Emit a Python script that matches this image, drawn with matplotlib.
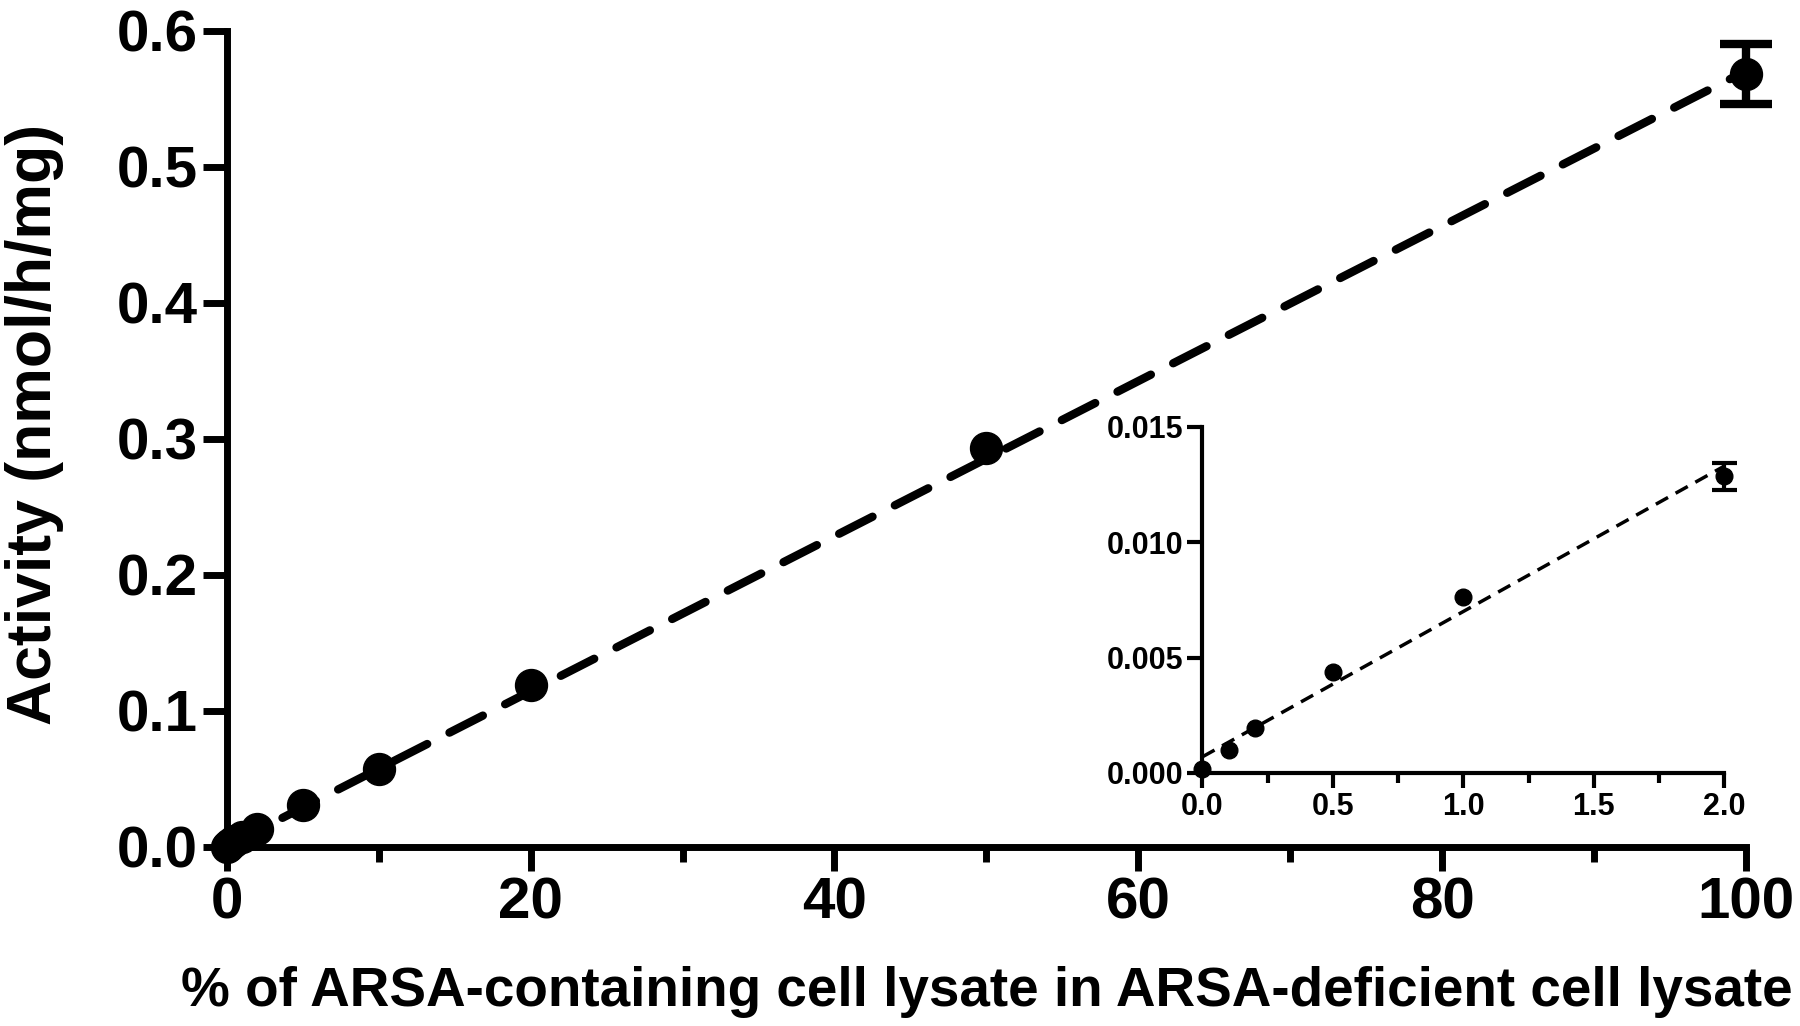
import matplotlib
matplotlib.use("Agg")
import matplotlib.pyplot as plt
import numpy as np
from matplotlib.ticker import MultipleLocator, FormatStrFormatter

plt.rcParams['font.family'] = ['Liberation Sans', 'DejaVu Sans']
plt.rcParams['font.weight'] = 'bold'

nan = float('nan')

# Main data
pct = [0, 0.1, 0.2, 0.5, 1, 2, 5, 10, 20, 50, 100]
activity = [0.00017, 0.0010, 0.00197, 0.0044, 0.0076, 0.0129, 0.031, 0.057, 0.119, 0.293, 0.568]
activity_err = [nan, nan, nan, nan, nan, nan, nan, nan, nan, nan, 0.022]   # hidden by markers unless given
main_fit = [0.0005, 0.0057]          # intercept, slope

# Inset data
pct_low = [0, 0.1, 0.2, 0.5, 1.0, 2.0]
activity_low = [0.00017, 0.0010, 0.00197, 0.00438, 0.00764, 0.01285]
activity_low_err = [nan, nan, nan, nan, nan, 0.00057]
inset_fit = [0.0007, 0.0063]

main_xticks = [0, 20, 40, 60, 80, 100]
main_yticks = [0.0, 0.1, 0.2, 0.3, 0.4, 0.5, 0.6]
inset_xticks = [0.0, 0.5, 1.0, 1.5, 2.0]
inset_yticks = [0.000, 0.005, 0.010, 0.015]

fig = plt.figure(figsize=(18, 10.26), dpi=100)
ax = fig.add_axes([0.126, 0.1745, 0.844, 0.7955])

xf = np.array([0, 100])
ax.plot(xf, main_fit[0] + main_fit[1] * xf, color='black', lw=6, ls=(0, (4.5, 3)),
        dash_capstyle='round', zorder=2)
ax.errorbar(pct, activity, yerr=activity_err, fmt='o', color='black', ms=23,
            elinewidth=6, capsize=19, capthick=6, zorder=3, clip_on=False)

ax.set_xlim(0, 100)
ax.set_ylim(0, 0.6)
ax.set_xticks(main_xticks)
ax.xaxis.set_minor_locator(MultipleLocator(10))
ax.set_yticks(main_yticks)
ax.yaxis.set_major_formatter(FormatStrFormatter('%.1f'))
for s in ['top', 'right']:
    ax.spines[s].set_visible(False)
for s in ['left', 'bottom']:
    ax.spines[s].set_linewidth(5)
ax.tick_params(axis='both', which='major', length=17, width=5, labelsize=42, pad=4)
ax.tick_params(axis='x', which='minor', length=11, width=5)
ax.set_xlabel('% of ARSA-containing cell lysate in ARSA-deficient cell lysate',
              fontsize=39.5, fontweight='bold', labelpad=26)
ax.set_ylabel('Activity (nmol/h/mg)', fontsize=45, fontweight='bold')
ax.yaxis.set_label_coords(-0.107, 0.518)

# Inset
ia = fig.add_axes([0.668, 0.2466, 0.290, 0.3374])
xi = np.array([0, 2.0])
ia.plot(xi, inset_fit[0] + inset_fit[1] * xi, color='black', lw=2.5, ls=(0, (4, 2.5)),
        zorder=2)
ia.errorbar(pct_low, activity_low, yerr=activity_low_err, fmt='o', color='black', ms=12,
            elinewidth=3, capsize=9, capthick=3, zorder=3, clip_on=False)
ia.set_xlim(0, 2.0)
ia.set_ylim(0, 0.015)
ia.set_xticks(inset_xticks)
ia.xaxis.set_minor_locator(MultipleLocator(0.25))
ia.set_yticks(inset_yticks)
ia.xaxis.set_major_formatter(FormatStrFormatter('%.1f'))
ia.yaxis.set_major_formatter(FormatStrFormatter('%.3f'))
for s in ['top', 'right']:
    ia.spines[s].set_visible(False)
for s in ['left', 'bottom']:
    ia.spines[s].set_linewidth(3)
ia.tick_params(axis='both', which='major', length=11, width=3, labelsize=22, pad=3)
ia.tick_params(axis='x', which='minor', length=7, width=3)
ia.patch.set_alpha(0)

fig.savefig('out.png', dpi=100)
